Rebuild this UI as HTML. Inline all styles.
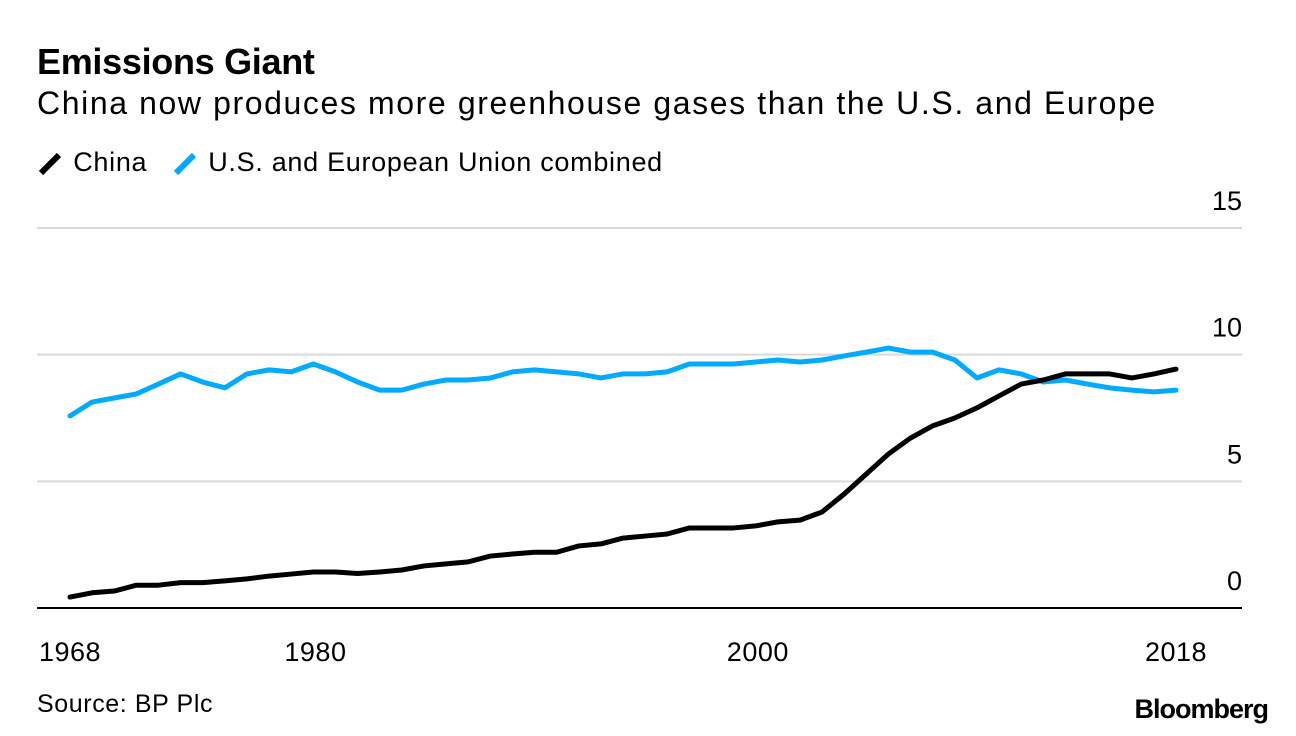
<!DOCTYPE html>
<html><head><meta charset="utf-8"><style>
body{margin:0;width:1296px;height:736px;background:#fff;font-family:"Liberation Sans",Arial,sans-serif;overflow:hidden;position:relative}
.t{position:absolute;white-space:nowrap;color:#000}
</style></head><body>
<div class="t" style="left:37px;top:41px;font-size:36px;font-weight:bold;letter-spacing:-0.3px">Emissions Giant</div>
<div class="t" style="left:37px;top:85px;font-size:32px;letter-spacing:1.6px">China now produces more greenhouse gases than the U.S. and Europe</div>
<div style="position:absolute;left:37px;top:147px;font-size:27px;height:32px;letter-spacing:0.7px">
 <span style="position:absolute;left:0;top:0;white-space:nowrap"><svg width="28" height="30" style="vertical-align:middle"><line x1="4" y1="24" x2="22" y2="6" stroke="#000" stroke-width="6"/></svg> China</span>
 <span style="position:absolute;left:135px;top:0;white-space:nowrap"><svg width="28" height="30" style="vertical-align:middle"><line x1="4" y1="24" x2="22" y2="6" stroke="#00aaff" stroke-width="6"/></svg> U.S. and European Union combined</span>
</div>
<svg id="chart" width="1296" height="736" style="position:absolute;left:0;top:0"></svg>
<div class="t" style="left:37px;top:690px;font-size:25px;letter-spacing:0.6px">Source: BP Plc</div>
<div class="t" style="right:28px;top:694px;font-size:27px;font-weight:bold;letter-spacing:-1px">Bloomberg</div>
<script>
const years=[];for(let y=1968;y<=2018;y++)years.push(y);
const china=[0.43,0.6,0.67,0.9,0.9,1.0,1.0,1.07,1.15,1.26,1.34,1.42,1.42,1.36,1.42,1.5,1.66,1.74,1.82,2.05,2.13,2.2,2.2,2.45,2.53,2.76,2.84,2.92,3.16,3.16,3.16,3.24,3.4,3.47,3.79,4.5,5.29,6.08,6.71,7.19,7.5,7.9,8.37,8.84,9.0,9.24,9.24,9.24,9.08,9.24,9.43];
const useu=[7.58,8.13,8.29,8.45,8.84,9.24,8.92,8.69,9.24,9.4,9.32,9.63,9.32,8.92,8.6,8.6,8.84,9.0,9.0,9.08,9.32,9.4,9.32,9.24,9.08,9.24,9.24,9.32,9.63,9.63,9.63,9.71,9.79,9.71,9.79,9.95,10.1,10.26,10.1,10.1,9.79,9.08,9.4,9.24,8.92,9.0,8.84,8.69,8.6,8.53,8.6];
const yTicks=[0,5,10,15];
const xTicks=[1968,1980,2000,2018];
const NS='http://www.w3.org/2000/svg';
const svg=document.getElementById('chart');
const X=y=>70+(y-1968)*(1176-70)/50;
const Y=v=>608-v*(608-228)/15;
function mk(t,a){const e=document.createElementNS(NS,t);for(const k in a)e.setAttribute(k,a[k]);svg.appendChild(e);return e;}
yTicks.forEach(v=>{
 if(v>0){const g=mk('line',{x1:37,x2:1242,y1:Y(v),y2:Y(v),stroke:'#d9d9d9','stroke-width':2});
 
 }
 const t=mk('text',{x:1242,y:Y(v)-18,'text-anchor':'end','font-size':27,'font-family':'Liberation Sans, sans-serif'});
 t.textContent=v;
 
 
});
const base=mk('line',{x1:37,x2:1242,y1:608,y2:608,stroke:'#000','stroke-width':2});


xTicks.forEach(yr=>{
 const t=mk('text',{x:X(yr)-(yr===1968||yr===2018?0:20),y:661,'text-anchor':'middle','font-size':27,'font-family':'Liberation Sans, sans-serif','letter-spacing':'0.5'});
 t.textContent=yr;
 
 
});
function line(vals,color,name){
 const p=mk('polyline',{points:vals.map((v,i)=>X(years[i])+','+Y(v)).join(' '),fill:'none',stroke:color,'stroke-width':5,'stroke-linejoin':'round','stroke-linecap':'round'});
 
 
}
line(useu,'#00aaff','us-eu-line');
line(china,'#000','china-line');
</script>
</body></html>
